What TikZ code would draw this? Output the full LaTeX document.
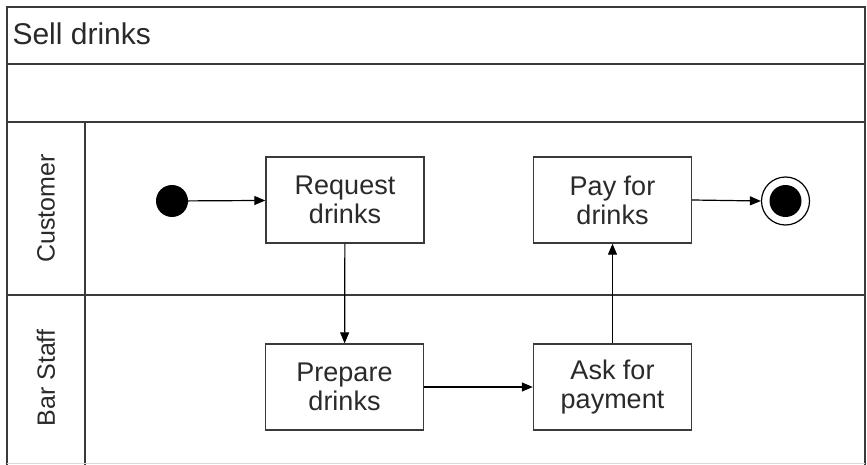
\documentclass[tikz,border=0pt]{standalone}
\usepackage{fontspec}
\setmainfont{Liberation Sans}
\usetikzlibrary{arrows.meta}
\definecolor{ln}{HTML}{3A3A3A}
\definecolor{tx}{HTML}{2A2A2A}
\begin{document}
\begin{tikzpicture}[x=1pt,y=-1pt,
  frame/.style={draw=ln,line width=2pt},
  act/.style={draw=ln,line width=1.4pt,fill=white,minimum width=158pt,minimum height=86pt,inner sep=0pt,align=center,text=tx,font=\fontsize{27}{29}\selectfont},
  lanelbl/.style={rotate=90,text=tx,font=\fontsize{25}{28}\selectfont},
  flow/.style={draw=black,line width=1.2pt,-{Triangle[length=11pt,width=9pt]}}]
\useasboundingbox (0,0) rectangle (867,465);
\fill[white] (0,0) rectangle (867,465);
% frame
\draw[frame] (7,465) -- (7,7) -- (865,7) -- (865,465);
\draw[frame] (7,64) -- (865,64);
\draw[frame] (7,122) -- (865,122);
\draw[frame] (7,295) -- (865,295);
\draw[frame] (85,122) -- (85,465);
\draw[draw=gray!30,line width=1pt] (7,463.5) -- (865,463.5);
\node[anchor=base west,text=tx,font=\fontsize{30}{34}\selectfont] (title) at (9,45) {Sell drinks};
\node[lanelbl] (lcust) at (46,208.5) {Customer};
\node[lanelbl] (lbar) at (46,378) {Bar Staff};
% nodes
\node[circle,fill=black,minimum size=32pt,inner sep=0pt] (start) at (172,201) {};
\node[act] (req) at (345,200) {Request\\drinks};
\node[act] (pay) at (612.5,200) {Pay for\\drinks};
\node[act] (prep) at (344.5,387) {Prepare\\drinks};
\node[act] (ask) at (612.5,387) {Ask for\\payment};
\node[circle,draw=black,line width=1.2pt,fill=white,minimum size=48pt,inner sep=0pt] (endo) at (785.5,201) {};
\node[circle,fill=black,minimum size=32pt,inner sep=0pt] (endi) at (785.5,201) {};
% flows
\draw[flow] (start) -- (req);
\draw[flow] (req) -- (prep);
\draw[flow] (prep) -- (ask);
\draw[flow] (ask) -- (pay);
\draw[flow] (pay.east) -- (endo.west);
\end{tikzpicture}
\end{document}
